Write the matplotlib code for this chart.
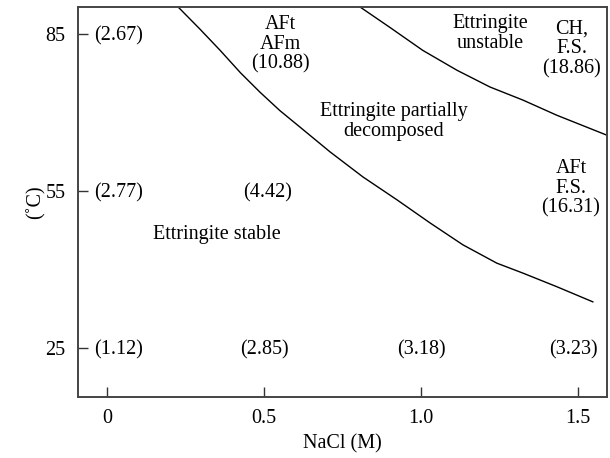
import numpy as np
import matplotlib
matplotlib.use("Agg")
import matplotlib.pyplot as plt

plt.rcParams["font.family"] = ["Liberation Serif", "DejaVu Serif"]
plt.rcParams["font.size"] = 14.5

# Boundary curves
lower_x = [0.226, 0.295, 0.360, 0.425, 0.487, 0.550, 0.615, 0.710, 0.815, 0.924, 1.029, 1.134, 1.242, 1.325, 1.433, 1.548]
lower_y = [90.2, 86.0, 81.9, 77.6, 73.9, 70.4, 67.2, 62.5, 57.7, 53.3, 48.9, 44.7, 41.2, 39.3, 36.7, 33.8]
upper_x = [0.806, 0.901, 1.006, 1.115, 1.220, 1.325, 1.433, 1.592]
upper_y = [90.2, 86.3, 81.9, 78.1, 74.9, 72.4, 69.5, 65.7]

# Bracketed values at the measurement grid
val_x = [0.035, 0.035, 0.035, 0.51, 0.50, 1.003, 1.487]
val_y = [85, 55, 25, 55, 25, 25, 25]
val_txt = ["(2.67)", "(2.77)", "(1.12)", "(4.42)", "(2.85)", "(3.18)", "(3.23)"]

# Region labels
reg_x = [0.551, 1.220, 1.481, 0.914, 1.478, 0.350]
reg_y = [83.0, 85.1, 82.2, 68.3, 55.5, 46.7]
reg_txt = ["AFt\nAFm\n(10.88)", "Ettringite\nunstable", "CH,\nF.S.\n(18.86)",
           "Ettringite partially\ndecomposed", "AFt\nF.S.\n(16.31)", "Ettringite stable"]

fig = plt.figure(figsize=(6.10, 4.58), dpi=100)
ax = fig.add_axes([0.128, 0.1332, 0.867, 0.8515])
ax.plot(lower_x, lower_y, color="black", lw=1.0)
ax.plot(upper_x, upper_y, color="black", lw=1.0, clip_on=False)

for x, y, t in zip(val_x, val_y, val_txt):
    ax.text(x, y - 0.3, t, ha="center", va="center")
for x, y, t in zip(reg_x, reg_y, reg_txt):
    ax.text(x, y, t, ha="center", va="center", linespacing=1.05)

ax.set_xlim(-0.093, 1.593)
ax.set_ylim(15.6, 90.2)
ax.set_xticks([0, 0.5, 1.0, 1.5])
ax.set_xticklabels(["0", "0.5", "1.0", "1.5"])
ax.set_yticks([25, 55, 85])
ax.tick_params(direction="in", length=7, width=1.0, color="#333333", pad=9)
for s in ax.spines.values():
    s.set_color("#444444")
    s.set_linewidth(1.4)
ax.set_xlabel("NaCl (M)", labelpad=4)
ax.set_ylabel("(˚C)", labelpad=0)
fig.savefig("out.png", dpi=100)
